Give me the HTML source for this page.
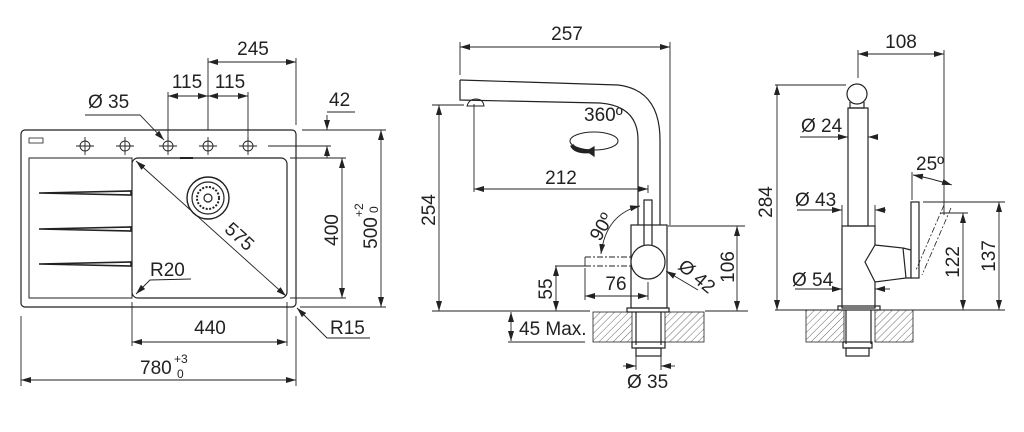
<!DOCTYPE html>
<html><head><meta charset="utf-8"><style>
html,body{margin:0;padding:0;background:#fff;}
svg{display:block;}
text{font-family:"Liberation Sans",Arial,sans-serif;fill:#222;font-size:19px;}
.s{font-size:12px;}
.m{text-anchor:middle;}
</style></head><body>
<svg width="1024" height="432" viewBox="0 0 1024 432" xmlns="http://www.w3.org/2000/svg">
<defs>
<marker id="a" viewBox="0 0 10 6" refX="10" refY="3" markerWidth="10" markerHeight="6" orient="auto-start-reverse" markerUnits="userSpaceOnUse"><path d="M0,0 L10,3 L0,6 z" fill="#222"/></marker>
<pattern id="h" width="5" height="5" patternUnits="userSpaceOnUse" patternTransform="rotate(45)"><line x1="0" y1="0" x2="0" y2="5" stroke="#444" stroke-width="0.8"/></pattern>
</defs>
<g fill="none" stroke="#222" stroke-width="1.2">
<!-- SINK -->
<rect x="21" y="130" width="275" height="177" rx="4"/>
<rect x="29" y="138" width="14" height="5" stroke-width="0.8"/>
<path d="M29,158 L132,158 L132,298 L29,298 Z" stroke-width="1"/>
<rect x="132" y="158" width="155" height="140" rx="6"/>
<line x1="180" y1="158" x2="193" y2="158" stroke-width="2"/>
<g stroke-width="1.6">
<path d="M39,193 L131,191 L131,195 Z"/>
<path d="M39,229 L131,227 L131,231 Z"/>
<path d="M39,264 L131,262 L131,266 Z"/>
</g>
<g stroke-width="0.9">
<circle cx="85" cy="146" r="5"/><line x1="76" y1="146" x2="94" y2="146"/><line x1="85" y1="137" x2="85" y2="155"/>
<circle cx="125" cy="146" r="5"/><line x1="116" y1="146" x2="134" y2="146"/><line x1="125" y1="137" x2="125" y2="155"/>
<circle cx="168" cy="146" r="5"/><line x1="159" y1="146" x2="177" y2="146"/><line x1="168" y1="137" x2="168" y2="155"/>
<circle cx="208" cy="146" r="5"/><line x1="199" y1="146" x2="217" y2="146"/><line x1="208" y1="137" x2="208" y2="155"/>
<circle cx="248" cy="146" r="5"/><line x1="239" y1="146" x2="257" y2="146"/><line x1="248" y1="137" x2="248" y2="155"/>
</g>
<circle cx="208" cy="198" r="21" stroke-width="1.4"/>
<circle cx="208" cy="198" r="16"/>
<circle cx="208" cy="198" r="11" stroke-dasharray="2 1.5" stroke-width="2"/>
<circle cx="208" cy="198" r="4"/>
<g stroke-width="0.9">
<line x1="136" y1="161" x2="286" y2="296" marker-start="url(#a)" marker-end="url(#a)"/>
<polyline points="191,279 150,280 136,294" marker-end="url(#a)"/>
<line x1="132" y1="302" x2="132" y2="346"/><line x1="287" y1="302" x2="287" y2="346"/>
<line x1="132" y1="342" x2="287" y2="342" marker-start="url(#a)" marker-end="url(#a)"/>
<line x1="21" y1="316" x2="21" y2="386"/><line x1="296" y1="316" x2="296" y2="386"/>
<line x1="21" y1="380" x2="296" y2="380" marker-start="url(#a)" marker-end="url(#a)"/>
<polyline points="370,338 327,338 297,308" marker-end="url(#a)"/>
<line x1="290" y1="158" x2="346" y2="158"/><line x1="290" y1="298" x2="346" y2="298"/>
<line x1="342" y1="158" x2="342" y2="298" marker-start="url(#a)" marker-end="url(#a)"/>
<line x1="302" y1="130" x2="386" y2="130"/><line x1="300" y1="307" x2="386" y2="307"/>
<line x1="381" y1="130" x2="381" y2="307" marker-start="url(#a)" marker-end="url(#a)"/>
<line x1="268" y1="146" x2="331" y2="146"/>
<line x1="327" y1="115" x2="327" y2="130" marker-end="url(#a)"/>
<line x1="327" y1="158" x2="327" y2="146" marker-end="url(#a)"/>
<line x1="327" y1="112" x2="355" y2="112"/>
<line x1="208" y1="58" x2="208" y2="130"/><line x1="296" y1="58" x2="296" y2="125"/>
<line x1="208" y1="62" x2="296" y2="62" marker-start="url(#a)" marker-end="url(#a)"/>
<line x1="168" y1="92" x2="168" y2="140"/><line x1="248" y1="92" x2="248" y2="140"/>
<line x1="168" y1="96" x2="208" y2="96" marker-start="url(#a)" marker-end="url(#a)"/>
<line x1="208" y1="96" x2="248" y2="96" marker-start="url(#a)" marker-end="url(#a)"/>
<polyline points="85,115 140,115 164,140" marker-end="url(#a)"/>
</g>
<!-- FRONT FAUCET -->
<path d="M460,80 L618,85 Q660,90 660,140 L660,225"/>
<path d="M460,80 L460,100 L600,103 Q638,106 638,140 L638,225"/>
<path d="M467,106 Q469,99 476,99 Q483,99 484,106 Z" stroke-width="1"/>
<rect x="631" y="225" width="36" height="83"/>
<rect x="644" y="200" width="8" height="50"/>
<circle cx="648" cy="262" r="17" fill="#fff"/>
<g stroke-width="0.9" stroke-dasharray="6 2 2 2">
<line x1="585" y1="257" x2="631" y2="257"/><line x1="585" y1="266" x2="631" y2="266"/>
</g>
<line x1="585" y1="257" x2="585" y2="266" stroke-width="0.9"/>
<rect x="627" y="308" width="42" height="4"/>
<rect x="593" y="312" width="39" height="30" fill="url(#h)" stroke-width="0.8"/>
<rect x="665" y="312" width="39" height="30" fill="url(#h)" stroke-width="0.8"/>
<line x1="636" y1="312" x2="636" y2="345"/><line x1="661" y1="312" x2="661" y2="345"/>
<rect x="632" y="342" width="33" height="6"/>
<rect x="636" y="348" width="25" height="8"/>
<g stroke-width="0.9">
<line x1="460" y1="42" x2="460" y2="75"/><line x1="670" y1="42" x2="670" y2="225"/>
<line x1="460" y1="47" x2="670" y2="47" marker-start="url(#a)" marker-end="url(#a)"/>
<line x1="432" y1="105" x2="464" y2="105"/>
<line x1="432" y1="311" x2="590" y2="311"/><line x1="705" y1="311" x2="748" y2="311"/>
<line x1="439" y1="105" x2="439" y2="311" marker-start="url(#a)" marker-end="url(#a)"/>
<line x1="474" y1="104" x2="474" y2="192"/><line x1="648" y1="185" x2="648" y2="193"/>
<line x1="474" y1="189" x2="648" y2="189" marker-start="url(#a)" marker-end="url(#a)"/>
<path d="M640,206 Q606,214 601,254" marker-start="url(#a)" marker-end="url(#a)"/>
<line x1="555" y1="266" x2="585" y2="266"/>
<line x1="556" y1="266" x2="556" y2="311" marker-start="url(#a)" marker-end="url(#a)"/>
<line x1="585" y1="268" x2="585" y2="300"/><line x1="648" y1="282" x2="648" y2="300"/>
<line x1="585" y1="296" x2="648" y2="296" marker-start="url(#a)" marker-end="url(#a)"/>
<line x1="698" y1="290" x2="666" y2="271" marker-end="url(#a)"/>
<line x1="668" y1="226" x2="745" y2="226"/>
<line x1="737" y1="226" x2="737" y2="311" marker-start="url(#a)" marker-end="url(#a)"/>
<line x1="511" y1="312" x2="511" y2="341" marker-start="url(#a)" marker-end="url(#a)"/>
<line x1="508" y1="342" x2="585" y2="342"/>
<line x1="623" y1="366" x2="636" y2="366" marker-end="url(#a)"/>
<line x1="675" y1="366" x2="661" y2="366" marker-end="url(#a)"/>
<line x1="636" y1="356" x2="636" y2="370"/><line x1="661" y1="356" x2="661" y2="370"/>
</g>
<ellipse cx="594" cy="141" rx="24" ry="9" stroke-width="1"/>
<path d="M572,145 Q575,153 594,151" stroke-width="4"/>
<path d="M594,147 L587,151 L594,156 Z" fill="#222"/>
<!-- SIDE FAUCET -->
<circle cx="857" cy="94" r="10"/>
<path d="M850,102 L850,108 L864,108 L864,102"/>
<rect x="848" y="108" width="20" height="118"/>
<rect x="842" y="226" width="33" height="82"/>
<path d="M875,245 L903,248 L906,278 L875,282 L865,262 Z" fill="#fff"/>
<path d="M903,248 L911,250 L911,278 L906,278"/>
<rect x="911" y="202" width="8" height="76" fill="#fff"/>
<g stroke-width="0.8" stroke-dasharray="6 2 2 2">
<line x1="944" y1="205" x2="916" y2="270"/><line x1="951" y1="208" x2="922" y2="275"/>
</g>
<rect x="838" y="306" width="42" height="4"/>
<rect x="806" y="310" width="38" height="32" fill="url(#h)" stroke-width="0.8"/>
<rect x="875" y="310" width="38" height="32" fill="url(#h)" stroke-width="0.8"/>
<line x1="846" y1="310" x2="846" y2="344"/><line x1="871" y1="310" x2="871" y2="344"/>
<rect x="843" y="342" width="29" height="6"/>
<rect x="846" y="348" width="23" height="8"/>
<g stroke-width="0.9">
<line x1="858" y1="50" x2="858" y2="78"/><line x1="944" y1="50" x2="944" y2="215"/>
<line x1="858" y1="54" x2="944" y2="54" marker-start="url(#a)" marker-end="url(#a)"/>
<line x1="775" y1="85" x2="846" y2="85"/>
<line x1="775" y1="310" x2="1005" y2="310"/>
<line x1="777" y1="85" x2="777" y2="310" marker-start="url(#a)" marker-end="url(#a)"/>
<line x1="800" y1="137" x2="848" y2="137" marker-end="url(#a)"/>
<line x1="878" y1="137" x2="868" y2="137" marker-end="url(#a)"/>
<line x1="797" y1="210" x2="842" y2="210" marker-end="url(#a)"/>
<line x1="886" y1="210" x2="875" y2="210" marker-end="url(#a)"/>
<line x1="842" y1="205" x2="842" y2="226"/><line x1="875" y1="205" x2="875" y2="226"/>
<line x1="795" y1="289" x2="842" y2="289" marker-end="url(#a)"/>
<line x1="890" y1="289" x2="875" y2="289" marker-end="url(#a)"/>
<line x1="912" y1="172" x2="912" y2="200"/>
<path d="M913,175 Q930,178 952,185" marker-start="url(#a)" marker-end="url(#a)"/>
<line x1="923" y1="202" x2="1005" y2="202"/>
<line x1="999" y1="202" x2="999" y2="310" marker-start="url(#a)" marker-end="url(#a)"/>
<line x1="940" y1="213" x2="968" y2="213"/>
<line x1="963" y1="213" x2="963" y2="310" marker-start="url(#a)" marker-end="url(#a)"/>
</g>
</g>
<!-- TEXTS -->
<text class="m" x="253" y="55">245</text>
<text class="m" x="187" y="88">115</text><text class="m" x="230" y="88">115</text>
<text x="88" y="108">Ø 35</text>
<text x="329" y="106">42</text>
<text class="m" x="240" y="243" transform="rotate(42 240 236)">575</text>
<text x="150" y="276">R20</text>
<text class="m" x="210" y="334">440</text>
<text x="140" y="374">780</text><text class="s" x="174" y="363">+3</text><text class="s" x="177" y="378">0</text>
<text x="330" y="334">R15</text>
<text class="m" x="0" y="0" transform="translate(338,230) rotate(-90)">400</text>
<text class="m" x="0" y="0" transform="translate(377,233) rotate(-90)">500</text>
<text class="s" x="0" y="0" transform="translate(363,217) rotate(-90)">+2</text>
<text class="s" x="0" y="0" transform="translate(378,213) rotate(-90)">0</text>
<text class="m" x="567" y="40">257</text>
<text class="m" x="0" y="0" transform="translate(435,210) rotate(-90)">254</text>
<text class="m" x="561" y="184">212</text>
<text x="584" y="121">360º</text>
<text class="m" x="0" y="0" transform="translate(607,230) rotate(-60)">90º</text>
<text class="m" x="0" y="0" transform="translate(552,289) rotate(-90)">55</text>
<text class="m" x="616" y="290">76</text>
<text x="0" y="0" transform="translate(677,268) rotate(40)">Ø 42</text>
<text class="m" x="0" y="0" transform="translate(734,267) rotate(-90)">106</text>
<text x="519" y="335">45 Max.</text>
<text x="627" y="388">Ø 35</text>
<text class="m" x="901" y="48">108</text>
<text class="m" x="0" y="0" transform="translate(772,202) rotate(-90)">284</text>
<text x="801" y="132">Ø 24</text>
<text x="795" y="206">Ø 43</text>
<text x="792" y="286">Ø 54</text>
<text x="916" y="170">25º</text>
<text class="m" x="0" y="0" transform="translate(959,262) rotate(-90)">122</text>
<text class="m" x="0" y="0" transform="translate(995,256) rotate(-90)">137</text>
</svg>
</body></html>
